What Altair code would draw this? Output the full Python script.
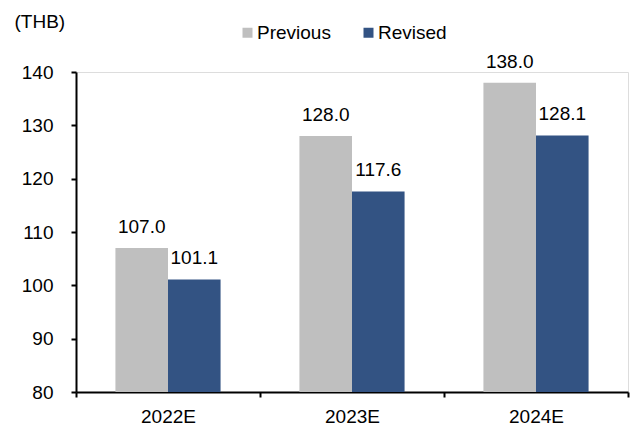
import altair as alt
import pandas as pd

years = ["2022E", "2023E", "2024E"]
previous = [107.0, 128.0, 138.0]
revised = [101.1, 117.6, 128.1]
series = ["Previous", "Revised"]
colors = ["#bfbfbf", "#335383"]

rows = []
for i, y in enumerate(years):
    rows.append({"year": y, "series": "Previous", "value": previous[i]})
    rows.append({"year": y, "series": "Revised", "value": revised[i]})
df = pd.DataFrame(rows)

FONT = "Liberation Sans"
FS = 19

x = alt.X("year:N", sort=years, title=None,
          scale=alt.Scale(paddingInner=0, paddingOuter=0),
          axis=alt.Axis(labelAngle=0, tickBand="extent", tickSize=5, tickWidth=2,
                        tickColor="black", domainColor="black", domainWidth=2,
                        labelFontSize=FS, labelFont=FONT, labelColor="black",
                        labelPadding=10))
xo = alt.XOffset("series:N", sort=series,
                 scale=alt.Scale(paddingInner=0, paddingOuter=0.75))

base = alt.Chart(df)

bars = base.mark_bar().encode(
    x=x,
    xOffset=xo,
    y=alt.Y("value:Q", scale=alt.Scale(domain=[80, 140], clamp=True),
            axis=alt.Axis(values=[80, 90, 100, 110, 120, 130, 140], grid=False,
                          tickSize=5, tickWidth=2, tickColor="black",
                          domainColor="black", domainWidth=2,
                          labelFontSize=FS, labelFont=FONT, labelColor="black",
                          labelPadding=18,
                          title="(THB)", titleAngle=0, titleAlign="left",
                          titleBaseline="middle", titleX=-62, titleY=-51,
                          titleFontSize=FS, titleFont=FONT, titleFontWeight="normal",
                          titleColor="black")),
    color=alt.Color("series:N", sort=series,
                    scale=alt.Scale(domain=series, range=colors),
                    legend=alt.Legend(title=None, orient="none", direction="horizontal",
                                      legendX=162, legendY=-49, symbolType="square",
                                      symbolSize=100, symbolStrokeWidth=0,
                                      labelFontSize=FS, labelFont=FONT, labelColor="black",
                                      labelOffset=0, columnPadding=28, padding=0)),
)

labels = base.mark_text(baseline="alphabetic", dy=-15, fontSize=FS, font=FONT,
                        color="black").encode(
    x=alt.X("year:N", sort=years),
    xOffset=alt.XOffset("series:N", sort=series),
    y="value:Q",
    text=alt.Text("value:Q", format=".1f"),
)

chart = alt.layer(bars, labels).properties(
    width=552, height=320,
    autosize=alt.AutoSizeParams(type="none"),
    padding={"left": 76, "top": 72, "right": 8, "bottom": 33},
).configure_view(stroke=None).configure(background="white")

chart.save("out.html", embed_options={"renderer": "svg", "actions": False})
